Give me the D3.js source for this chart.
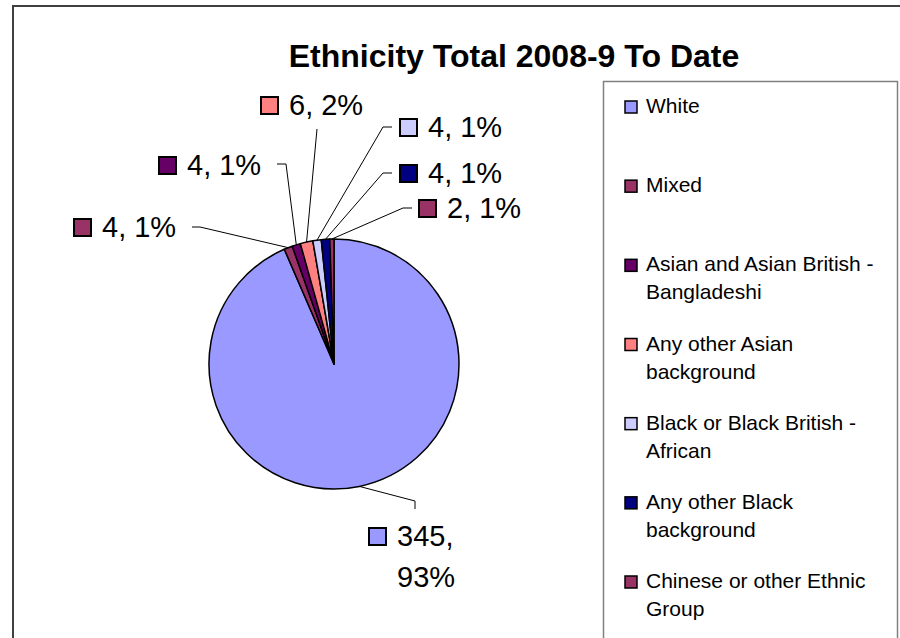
<!DOCTYPE html>
<html>
<head>
<meta charset="utf-8">
<title>Ethnicity Total 2008-9 To Date</title>
<script src="https://d3js.org/d3.v7.min.js"></script>
<style>
  body { margin: 0; background: #fff; }
  svg { display: block; font-family: "Liberation Sans", Arial, sans-serif; }
</style>
</head>
<body>
<div id="chart"></div>
<script>
// data
var categories = ["White", "Mixed", "Asian and Asian British - Bangladeshi",
  "Any other Asian background", "Black or Black British - African",
  "Any other Black background", "Chinese or other Ethnic Group"];
var counts = [345, 4, 4, 6, 4, 4, 2];
var colors = ["#9999ff", "#993366", "#660066", "#ff8080", "#ccccff", "#000080", "#993366"];
// legend text broken into lines as in the original
var legendLines = [["White"], ["Mixed"], ["Asian and Asian British -", "Bangladeshi"],
  ["Any other Asian", "background"], ["Black or Black British -", "African"],
  ["Any other Black", "background"], ["Chinese or other Ethnic", "Group"]];

// label placement (text start, baseline, leader elbow points from label side)
var labelPos = [
  {x: 397, y: 546, lines: 2, leader: [[415, 509], [415, 501]]},
  {x: 102, y: 237, lines: 1, leader: [[192, 227], [200, 227]]},
  {x: 187, y: 175, lines: 1, leader: [[277, 164], [286, 164]]},
  {x: 289, y: 115, lines: 1, leader: [[317, 129]]},
  {x: 428, y: 137, lines: 1, leader: [[392, 127], [383, 127]]},
  {x: 428, y: 183, lines: 1, leader: [[392, 173], [383, 173]]},
  {x: 447, y: 218, lines: 1, leader: [[412, 208], [403, 208]]}
];

var width = 900, height = 638;
var cx = 334, cy = 364, radius = 125;

var svg = d3.select("#chart").append("svg")
  .attr("width", width)
  .attr("height", height);

// chart area border (right/bottom run off the picture)
svg.append("path")
  .attr("d", "M13," + (height + 5) + "V6H" + (width + 5))
  .attr("fill", "none")
  .attr("stroke", "#404040")
  .attr("stroke-width", 2);

// title
svg.append("text")
  .attr("x", 514)
  .attr("y", 67)
  .attr("text-anchor", "middle")
  .attr("font-size", "32px")
  .attr("font-weight", "bold")
  .text("Ethnicity Total 2008-9 To Date");

var total = d3.sum(counts);
var data = counts.map(function(v, i) {
  return {name: categories[i], value: v, color: colors[i], pos: labelPos[i]};
});

var pie = d3.pie().sort(null).value(function(d) { return d.value; });
var arc = d3.arc().innerRadius(0).outerRadius(radius);
var arcs = pie(data);

var g = svg.append("g").attr("transform", "translate(" + cx + "," + cy + ")");

g.selectAll("path.slice")
  .data(arcs)
  .enter()
  .append("path")
  .attr("class", "slice")
  .attr("d", arc)
  .attr("fill", function(d) { return d.data.color; })
  .attr("stroke", "#000")
  .attr("stroke-width", 1.5)
  .attr("stroke-linejoin", "round");

// leader lines: from label elbow to the edge of the slice at its middle angle
arcs.forEach(function(d) {
  var a = (d.startAngle + d.endAngle) / 2;
  var edge = [cx + radius * Math.sin(a), cy - radius * Math.cos(a)];
  var pts = d.data.pos.leader.concat([edge]);
  svg.append("path")
    .attr("d", d3.line()(pts))
    .attr("fill", "none")
    .attr("stroke", "#000")
    .attr("stroke-width", 1);
});

// data labels
arcs.forEach(function(d) {
  var p = d.data.pos;
  var pct = Math.round(d.data.value / total * 100) + "%";
  svg.append("rect")
    .attr("x", p.x - 28)
    .attr("y", p.y - 18)
    .attr("width", 17)
    .attr("height", 17)
    .attr("fill", d.data.color)
    .attr("stroke", "#000")
    .attr("stroke-width", 2);
  var t = svg.append("text")
    .attr("x", p.x)
    .attr("y", p.y)
    .attr("font-size", "29px")
    .attr("fill", "#000");
  if (p.lines === 2) {
    t.append("tspan").attr("x", p.x).attr("y", p.y).text(d.data.value + ",");
    t.append("tspan").attr("x", p.x).attr("y", p.y + 41).text(pct);
  } else {
    t.text(d.data.value + ", " + pct);
  }
});

// legend
var legend = svg.append("g");
legend.append("rect")
  .attr("x", 603.5)
  .attr("y", 81.5)
  .attr("width", 294)
  .attr("height", height)
  .attr("fill", "#fff")
  .attr("stroke", "#808080")
  .attr("stroke-width", 1.5);

var legendY = d3.scalePoint()
  .domain(categories)
  .range([113, 588]);

categories.forEach(function(c, i) {
  var y = legendY(c);
  legend.append("rect")
    .attr("x", 625)
    .attr("y", y - 12)
    .attr("width", 12)
    .attr("height", 12)
    .attr("fill", colors[i])
    .attr("stroke", "#000")
    .attr("stroke-width", 1.5);
  var t = legend.append("text")
    .attr("font-size", "21px")
    .attr("fill", "#000");
  legendLines[i].forEach(function(line, j) {
    t.append("tspan")
      .attr("x", 646)
      .attr("y", y + j * 28)
      .text(line);
  });
});
</script>
</body>
</html>
